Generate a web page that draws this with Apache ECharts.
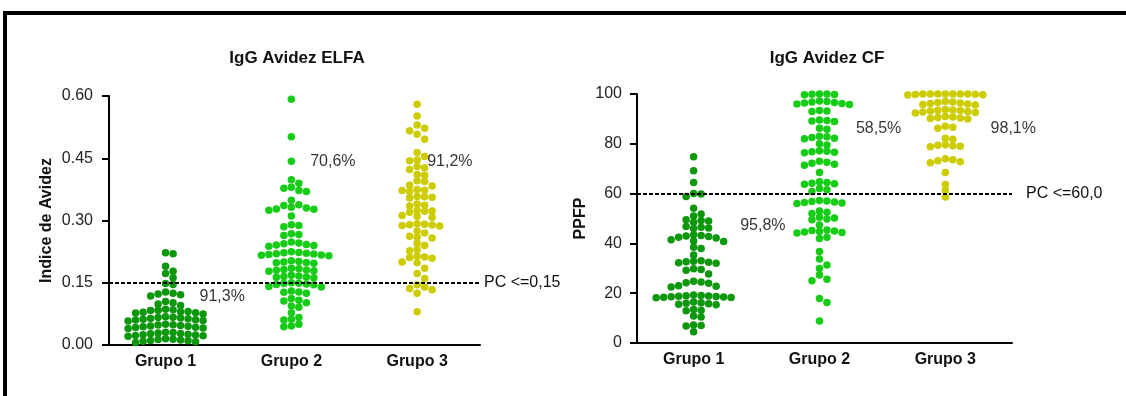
<!DOCTYPE html>
<html><head><meta charset="utf-8">
<script src="https://cdn.jsdelivr.net/npm/echarts@6/dist/echarts.min.js"></script>
<style>html,body{margin:0;padding:0;background:#fff}#c{width:1126px;height:396px}</style>
</head><body><div id="c"></div>
<script>
// ---------- data ----------
const categories = ['Grupo 1', 'Grupo 2', 'Grupo 3'];
const elfaTicks = [0, 0.15, 0.30, 0.45, 0.60];
const cfTicks = [0, 20, 40, 60, 80, 100];
const elfaCutoff = 0.15;
const cfCutoff = 60;
const elfaCutoffLabel = 'PC <=0,15';
const cfCutoffLabel = 'PC <=60,0';
const elfaPercent = ['91,3%', '70,6%', '91,2%'];
const cfPercent = ['95,8%', '58,5%', '98,1%'];

const elfaG1 = [0.222,0.220,0.190,0.178,0.172,0.162,0.148,0.146,0.128,0.125,0.123,0.121,0.118,0.105,0.102,0.099,0.095,
  0.086,0.085,0.084,0.083,0.081,0.080,0.079,0.078,0.077,0.075,
  0.068,0.067,0.066,0.065,0.064,0.063,0.062,0.061,0.060,0.059,0.058,
  0.050,0.049,0.048,0.047,0.046,0.045,0.044,0.043,0.042,0.041,0.040,
  0.031,0.030,0.029,0.028,0.027,0.026,0.025,0.024,0.023,0.022,0.021,
  0.015,0.014,0.013,0.012,0.011,0.010,0.009,0.008,0.006];
const elfaG2 = [0.592,0.502,0.443,0.398,0.390,0.380,0.378,0.372,0.370,0.349,0.338,0.336,0.332,0.330,0.328,0.327,0.325,0.311,
  0.290,0.288,0.285,0.268,0.266,0.264,
  0.248,0.246,0.244,0.242,0.241,0.240,0.238,
  0.225,0.223,0.222,0.221,0.220,0.219,0.218,0.217,0.216,0.215,
  0.203,0.201,0.200,0.199,0.198,0.197,
  0.185,0.184,0.182,0.181,0.180,0.179,0.178,
  0.168,0.166,0.165,0.164,0.163,0.162,
  0.150,0.149,0.148,0.147,0.146,0.145,0.141,0.140,
  0.130,0.128,0.127,0.125,0.112,0.108,0.106,0.102,
  0.094,0.091,0.078,0.066,0.062,0.060,0.050,0.046,0.044];
const elfaG3 = [0.580,0.552,0.530,0.522,0.516,0.508,0.496,0.464,0.454,0.446,0.444,0.430,0.427,0.423,0.411,0.409,0.396,0.394,
  0.385,0.383,0.375,0.373,0.372,0.370,0.358,0.357,0.356,0.354,0.340,0.337,0.335,0.325,0.323,0.322,0.320,
  0.312,0.310,0.308,0.292,0.291,0.290,0.289,0.288,0.287,0.275,0.270,0.262,0.260,0.258,0.245,0.240,
  0.230,0.227,0.214,0.212,0.211,0.209,0.200,0.198,0.185,0.172,0.160,
  0.145,0.140,0.136,0.133,0.125,0.080];

const cfG1 = [74.8,69.2,64.5,60.0,59.8,58.8,54.1,51.8,51.0,49.5,49.2,49.0,48.5,46.8,46.5,46.2,46.0,
  43.5,43.2,43.0,42.8,42.5,42.2,41.5,41.0,40.8,38.5,38.0,35.3,
  33.0,32.8,32.6,32.4,32.2,32.0,29.8,29.5,29.2,27.7,
  24.8,24.5,24.2,24.0,23.0,22.8,22.5,
  19.3,19.1,19.0,18.9,18.8,18.7,18.6,18.5,18.4,18.3,18.2,
  16.5,16.2,16.0,15.8,15.6,15.4,13.5,13.2,13.0,10.8,10.4,7.2,7.0,6.8,4.5];
const cfG2 = [100,100,99.9,99.8,99.7,
  97.2,97.0,96.8,96.6,96.4,96.2,96.0,95.8,93.4,93.2,93.0,
  89.6,89.4,89.2,89.0,86.2,85.8,83.0,82.8,82.5,82.2,82.0,80.0,79.5,
  77.2,77.0,76.8,76.6,76.4,73.0,72.6,72.2,71.8,71.4,68.5,
  64.8,64.5,64.2,64.0,63.8,62.0,61.5,60.8,
  57.2,57.0,56.8,56.6,56.4,56.2,56.0,53.0,52.5,52.0,50.5,50.2,49.8,49.5,47.4,
  45.4,45.2,45.0,44.8,44.6,44.4,44.2,42.5,42.0,
  36.7,33.7,31.3,29.9,27.3,25.6,25.0,17.9,16.3,8.8];
const cfG3 = [100,100,100,100,100,100,100,99.9,99.8,99.7,99.6,
  97.0,96.8,96.6,96.4,96.2,96.0,95.8,95.6,
  93.8,93.6,93.5,93.4,93.2,93.0,92.8,92.6,92.4,
  91.0,90.8,90.6,90.4,90.2,90.0,
  87.0,86.6,86.2,82.2,81.8,
  79.6,79.4,79.2,79.0,78.8,
  74.0,73.6,73.2,72.8,72.4,
  68.5,63.7,61.2,58.6];

// ---------- layout / style ----------
const colors = ['#0c970c', '#16cc16', '#cccc00'];
const G = [
  {left: 109, top: 96, width: 371, height: 249, xmin: 0.55, xmax: 3.5},
  {left: 637, top: 94, width: 375, height: 249, xmin: 0.55, xmax: 3.53}
];
const pctPos = [
  [[1.27, 0.116], [2.15, 0.443], [3.08, 0.443]],
  [[1.37, 47], [2.29, 86.3], [3.36, 86.3]]
];
const DOT = 7.5, STEP = 7.5, MIN_DY = 6;
const REG = 'Liberation Sans, Arial, sans-serif';

function swarm(values, idx, pxX, pxY) {
  const sorted = values.slice().sort((a, b) => b - a);
  const cols = {};
  const out = [];
  for (const v of sorted) {
    const y = v * pxY;
    for (let i = 0; ; i++) {
      const k = i === 0 ? 0 : (i % 2 ? (i + 1) / 2 : -i / 2);
      if (cols[k] === undefined || Math.abs(cols[k] - y) >= MIN_DY) {
        cols[k] = y;
        out.push([idx + k * STEP / pxX, v]);
        break;
      }
    }
  }
  return out;
}

const panels = [
  {groups: [elfaG1, elfaG2, elfaG3], ticks: elfaTicks, cut: elfaCutoff, cutLabel: elfaCutoffLabel,
   pct: elfaPercent, name: 'Indice de Avidez', nameGap: 54, labelMargin: 16, labelDist: 4,
   fmt: v => v.toFixed(2)},
  {groups: [cfG1, cfG2, cfG3], ticks: cfTicks, cut: cfCutoff, cutLabel: cfCutoffLabel,
   pct: cfPercent, name: 'PPFP', nameGap: 48, labelMargin: 15, labelDist: 14,
   fmt: v => String(v)}
];

const xAxis = [], yAxis = [], series = [];
panels.forEach((p, gi) => {
  const g = G[gi];
  const ymin = p.ticks[0], ymax = p.ticks[p.ticks.length - 1];
  const pxY = g.height / (ymax - ymin);
  const pxX = g.width / (g.xmax - g.xmin);
  xAxis.push({
    gridIndex: gi, type: 'value', min: g.xmin, max: g.xmax,
    axisLine: {show: true, onZero: false, lineStyle: {color: '#000', width: 2}},
    axisTick: {show: false}, splitLine: {show: false},
    axisLabel: {customValues: [1, 2, 3], formatter: v => categories[Math.round(v) - 1] || '',
      margin: 9, color: '#111', fontSize: 16, fontWeight: 'bold', fontFamily: REG}
  });
  yAxis.push({
    gridIndex: gi, type: 'value', min: ymin, max: ymax, interval: p.ticks[1] - p.ticks[0],
    axisLine: {show: true, lineStyle: {color: '#000', width: 2}},
    axisTick: {show: true, length: 7, lineStyle: {color: '#000', width: 2}},
    splitLine: {show: false},
    axisLabel: {formatter: p.fmt, margin: p.labelMargin, color: '#222', fontSize: 16, fontFamily: REG},
    name: p.name, nameLocation: 'middle', nameGap: p.nameGap,
    nameTextStyle: {color: '#111', fontSize: 16, fontWeight: 'bold', fontFamily: REG}
  });
  p.groups.forEach((vals, ci) => {
    const s = {
      type: 'scatter', xAxisIndex: gi, yAxisIndex: gi, symbolSize: DOT,
      itemStyle: {color: colors[ci], opacity: 1}, silent: true, animation: false,
      data: swarm(vals, ci + 1, pxX, pxY)
    };
    if (ci === 0) {
      s.markLine = {
        silent: true, symbol: 'none', animation: false, z: 10,
        lineStyle: {color: '#000', type: [4, 2], width: 2},
        label: {show: true, position: 'end', distance: p.labelDist, formatter: p.cutLabel,
          color: '#111', fontSize: 16, fontFamily: REG},
        data: [{yAxis: p.cut}]
      };
    }
    series.push(s);
  });
  series.push({
    type: 'scatter', xAxisIndex: gi, yAxisIndex: gi, symbolSize: 0, silent: true, animation: false,
    data: p.pct.map((t, i) => ({value: pctPos[gi][i], name: t})),
    label: {show: true, position: 'right', distance: 0, formatter: d => d.name,
      color: '#000', fontSize: 16, fontFamily: REG}
  });
});

const chart = echarts.init(document.getElementById('c'), null, {renderer: 'canvas'});
chart.setOption({
  backgroundColor: '#fff',
  animation: false,
  grid: G.map(g => ({left: g.left, top: g.top, width: g.width, height: g.height, containLabel: false, outerBoundsMode: 'none'})),
  xAxis, yAxis, series,
  graphic: [
    {type: 'rect', shape: {x: 5, y: 13, width: 1300, height: 600}, style: {fill: 'none', stroke: '#000', lineWidth: 4}, silent: true},
    {type: 'text', x: 297, y: 58, style: {text: 'IgG Avidez ELFA', textAlign: 'center', textVerticalAlign: 'middle',
      fill: '#111', font: 'bold 17px Liberation Sans, Arial, sans-serif'}},
    {type: 'text', x: 827, y: 58, style: {text: 'IgG Avidez CF', textAlign: 'center', textVerticalAlign: 'middle',
      fill: '#111', font: 'bold 17px Liberation Sans, Arial, sans-serif'}}
  ]
});
</script></body></html>
